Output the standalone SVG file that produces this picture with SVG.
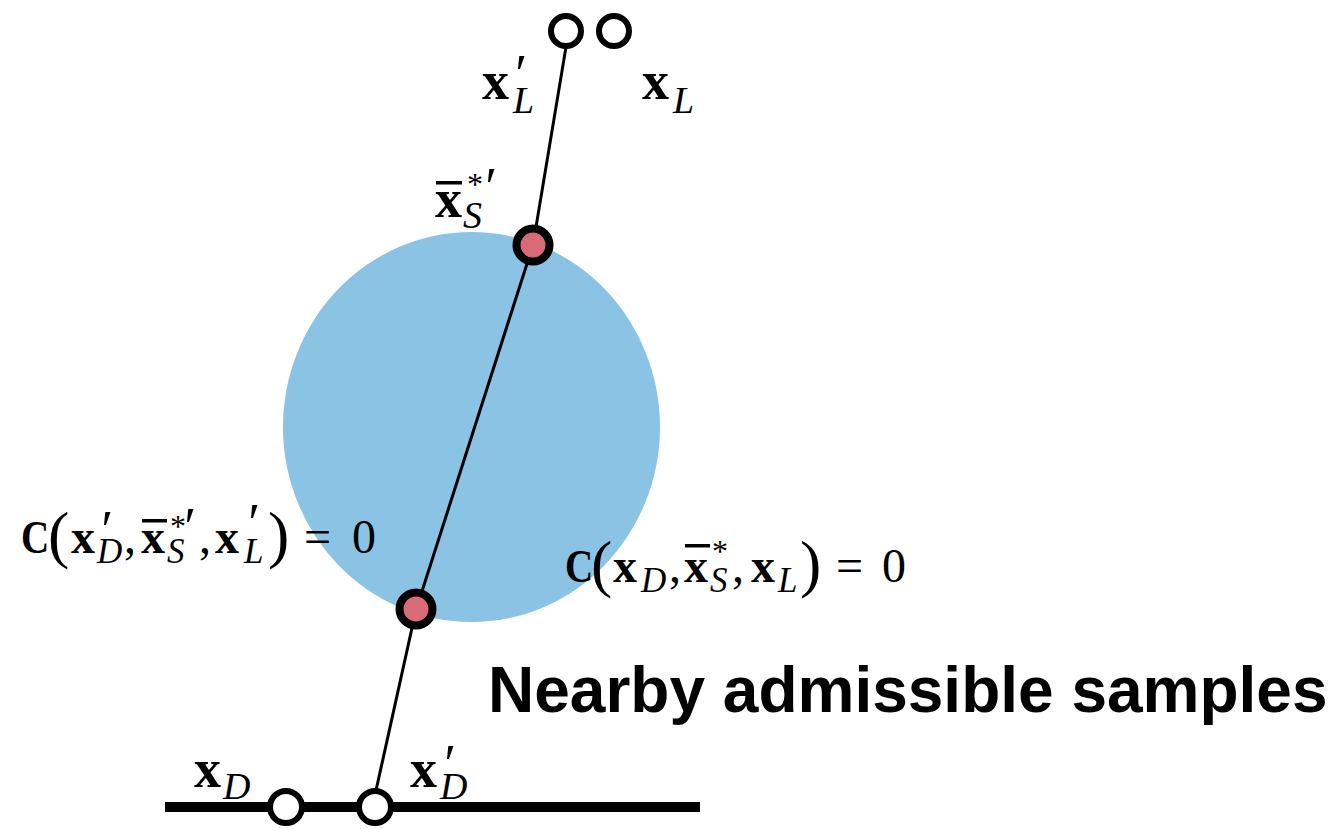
<svg xmlns="http://www.w3.org/2000/svg" width="1335" height="829" viewBox="0 0 1335 829">
<style>
.b{font-family:"Liberation Serif",serif;font-weight:bold;fill:#000}
.i{font-family:"Liberation Serif",serif;font-style:italic;fill:#000}
.r{font-family:"Liberation Serif",serif;fill:#000}
.bl{font-size:54px}
.bf{font-size:48px}
.sl{font-size:38px}
.sf{font-size:35px}
.pr{font-size:54px}
.st{font-size:32px}
.par{font-size:64px}
.eq{font-size:48px}
.open{fill:#fff;stroke:#000;stroke-width:6}
.red{fill:#D96B78;stroke:#000;stroke-width:8}
.title{font-family:"Liberation Sans",Arial,sans-serif;font-weight:bold;font-size:64px;fill:#000}
</style>
<rect width="1335" height="829" fill="#fff"/>
<g id="region">
<ellipse cx="471.5" cy="427" rx="188.5" ry="195" fill="#8BC3E5"/>
</g>
<g id="connectors">
<polyline points="566,47 533,245 416,610 375,795" fill="none" stroke="#000" stroke-width="3"/>
<line x1="165" y1="807" x2="700" y2="807" stroke="#000" stroke-width="10"/>
</g>
<g id="node-xLp"><circle class="open" cx="566" cy="31" r="15"/></g>
<g id="node-xL"><circle class="open" cx="614" cy="31" r="15"/></g>
<g id="node-xS1"><circle class="red" cx="533" cy="245" r="16.5"/></g>
<g id="node-xS2"><circle class="red" cx="416" cy="609" r="16.5"/></g>
<g id="node-xD"><circle class="open" cx="286" cy="807" r="16"/></g>
<g id="node-xDp"><circle class="open" cx="375" cy="807" r="16"/></g>

<g id="label-xLp">
<text class="b bl" x="482" y="99">x</text>
<text class="i sl" x="513" y="113">L</text>
<text class="i pr" x="512" y="92">′</text>
</g>
<g id="label-xL">
<text class="b bl" x="642" y="99">x</text>
<text class="i sl" x="673" y="113">L</text>
</g>
<g id="label-xS">
<rect x="436" y="181" width="26" height="3.5" fill="#000"/>
<text class="b bl" x="435" y="217">x</text>
<text class="i sl" x="463" y="228">S</text>
<text class="r st" x="467" y="195">*</text>
<text class="i pr" x="482" y="205">′</text>
</g>
<g id="label-xD">
<text class="b bl" x="194" y="787">x</text>
<text class="i sl" x="223" y="799">D</text>
</g>
<g id="label-xDp">
<text class="b bl" x="410" y="787">x</text>
<text class="i sl" x="440" y="799">D</text>
<text class="i pr" x="441" y="782">′</text>
</g>

<g id="formula-prime">
<text class="b" font-size="46" transform="translate(21,553) scale(0.85,1)">C</text>
<text class="r par" x="48" y="556">(</text>
<text class="b bf" x="71" y="553">x</text>
<text class="i sf" x="97" y="563">D</text>
<text class="i pr" x="98" y="548">′</text>
<text class="r eq" x="124" y="553">,</text>
<rect x="142" y="519" width="25" height="3.5" fill="#000"/>
<text class="b bf" x="141" y="553">x</text>
<text class="i sf" x="167" y="563">S</text>
<text class="r st" x="170" y="537">*</text>
<text class="i pr" x="181" y="545">′</text>
<text class="r eq" x="199" y="553">,</text>
<text class="b bf" x="215" y="553">x</text>
<text class="i sf" x="244" y="563">L</text>
<text class="i pr" x="245" y="541">′</text>
<text class="r par" x="268" y="556">)</text>
<text class="r eq" x="304" y="553">=</text>
<text class="r eq" x="352" y="553">0</text>
</g>

<g id="formula">
<text class="b" font-size="46" transform="translate(565,582) scale(0.85,1)">C</text>
<text class="r par" x="591" y="585">(</text>
<text class="b bf" x="613" y="582">x</text>
<text class="i sf" x="641" y="592">D</text>
<text class="r eq" x="669" y="582">,</text>
<rect x="685" y="544" width="25" height="3.5" fill="#000"/>
<text class="b bf" x="684" y="582">x</text>
<text class="i sf" x="710" y="592">S</text>
<text class="r st" x="712" y="562">*</text>
<text class="r eq" x="732" y="582">,</text>
<text class="b bf" x="751" y="582">x</text>
<text class="i sf" x="778" y="592">L</text>
<text class="r par" x="800" y="585">)</text>
<text class="r eq" x="836" y="582">=</text>
<text class="r eq" x="882" y="582">0</text>
</g>

<g id="title">
<text class="title" x="488" y="712">Nearby admissible samples</text>
</g>
</svg>
